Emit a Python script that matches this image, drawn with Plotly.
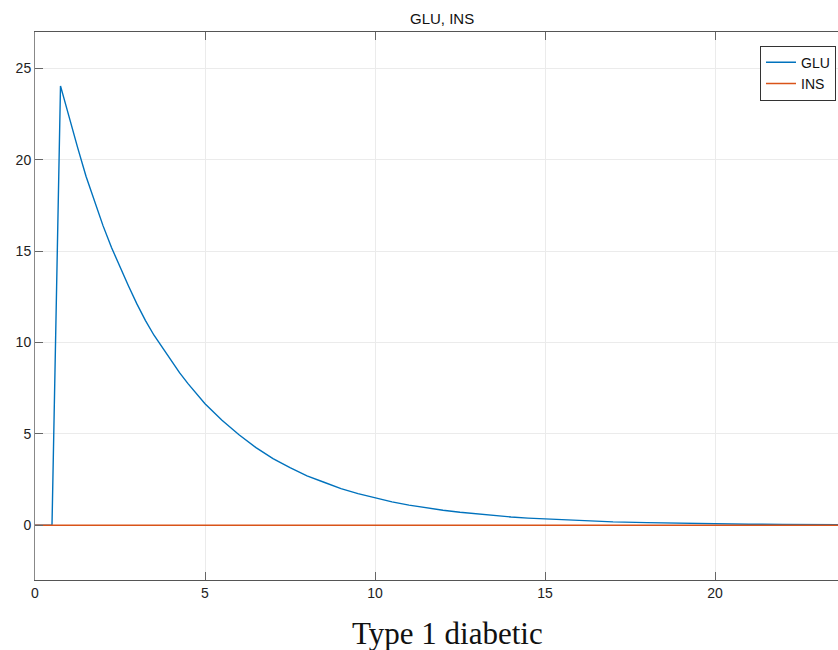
import plotly.graph_objects as go

# Data
time = [0, 0.5, 0.75, 1, 1.25, 1.5, 1.75, 2, 2.25, 2.5, 2.75, 3, 3.25, 3.5, 3.75, 4, 4.25, 4.5,
        5, 5.5, 6, 6.5, 7, 7.5, 8, 8.5, 9, 9.5, 10, 10.5, 11, 11.5, 12, 12.5, 13, 13.5, 14,
        14.5, 15, 16, 17, 18, 19, 20, 21, 22, 23, 24]
glu = [0, 0, 24.05, 22.3, 20.7, 19.1, 17.7, 16.4, 15.2, 14.1, 13.1, 12.1, 11.2, 10.4, 9.7, 9.0,
       8.35, 7.75, 6.65, 5.75, 4.95, 4.25, 3.65, 3.15, 2.7, 2.35, 2.0, 1.73, 1.5, 1.28, 1.1,
       0.95, 0.82, 0.71, 0.61, 0.53, 0.45, 0.39, 0.34, 0.25, 0.18, 0.14, 0.1,
       0.075, 0.055, 0.04, 0.03, 0.02]
ins_time = [0, 24]
ins = [0, 0]

x_ticks = [0, 5, 10, 15, 20]
y_ticks = [0, 5, 10, 15, 20, 25]
title_text = "GLU, INS"
caption = "Type 1 diabetic"

fig = go.Figure()
fig.add_trace(go.Scatter(x=time, y=glu, mode="lines", name="GLU",
                         line=dict(color="#0072BD", width=1.4)))
fig.add_trace(go.Scatter(x=ins_time, y=ins, mode="lines", name="INS",
                         line=dict(color="#D95319", width=1.4)))

axis_font = dict(family="Liberation Sans, Arial, sans-serif", size=14, color="#222")
fig.update_layout(
    width=838, height=650,
    margin=dict(l=35, r=0, t=32, b=70),
    paper_bgcolor="white", plot_bgcolor="white",
    showlegend=True,
    legend=dict(x=0.9975, y=0.975, xanchor="right", yanchor="top",
                bgcolor="white", bordercolor="#333", borderwidth=1,
                font=dict(family="Liberation Sans, Arial, sans-serif", size=14, color="#111"),
                tracegroupgap=0, itemwidth=30),
    xaxis=dict(range=[0, 803 / 34], tickvals=x_ticks, ticks="inside", ticklen=8,
               tickcolor="#666", showline=True, linecolor="#555", linewidth=1,
               mirror="ticks", showgrid=True, gridcolor="#ebebeb", gridwidth=1,
               zeroline=False, tickfont=axis_font),
    yaxis=dict(range=[-3, 27], tickvals=y_ticks, ticks="inside", ticklen=8,
               tickcolor="#666", showline=True, linecolor="#888", linewidth=1,
               mirror=False, showgrid=True, gridcolor="#ebebeb", gridwidth=1,
               zeroline=False, tickfont=axis_font),
    annotations=[
        dict(text=title_text, xref="paper", yref="paper", x=(442 - 35) / 803, y=1,
             yshift=14, xanchor="center", yanchor="middle", showarrow=False,
             font=dict(family="Liberation Sans, Arial, sans-serif", size=15, color="#111")),
        dict(text=caption, xref="paper", yref="paper", x=(447 - 35) / 803, y=0,
             yshift=-53, xanchor="center", yanchor="middle", showarrow=False,
             font=dict(family="Liberation Serif, Times New Roman, serif", size=31, color="#111")),
    ],
)

fig.write_html("out.html")
